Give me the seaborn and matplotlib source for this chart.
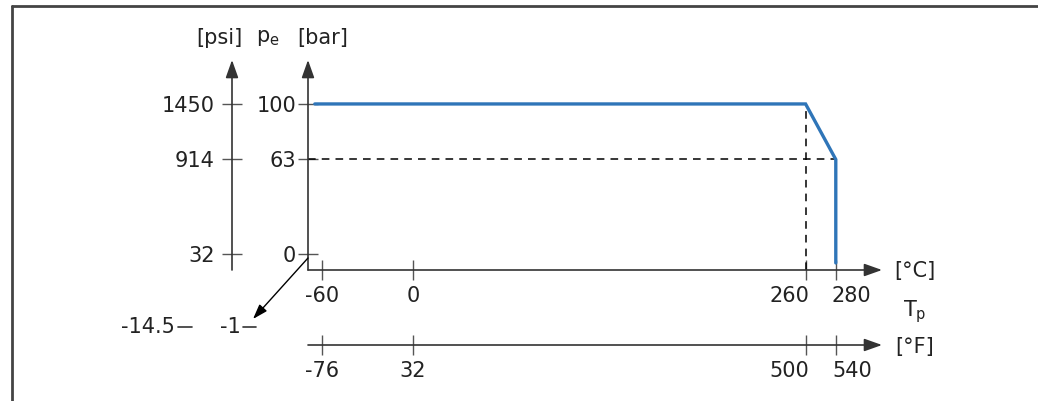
import matplotlib
matplotlib.use("Agg")
import matplotlib.pyplot as plt
import matplotlib.transforms as mtransforms
from matplotlib.lines import Line2D
from matplotlib.patches import FancyArrowPatch
import seaborn as sns
import pandas as pd

# Pressure / temperature derating curve
temp_c = [-65, 260, 280, 280]
pressure_bar = [100, 100, 63, -6]

# Axis ticks and their labels
bar_ticks = [0, 63, 100]
psi_labels = ["32", "914", "1450"]
c_ticks = [-60, 0, 260, 280]
f_labels = ["-76", "32", "500", "540"]
vac_labels = ["-1", "-14.5"]

sns.set_style("white")
plt.rcParams['font.family'] = ['DejaVu Sans']

W, H = 1038, 401
fig = plt.figure(figsize=(W / 100, H / 100), dpi=100)

TXT = '#222222'
AX = '#555555'
FS = 15
XLIM = (-69.5, 310.6)
YLIM = (-10.7, 129.3)

arrow = dict(arrowstyle='-|>,head_length=0.9,head_width=0.32', color=AX, lw=1.2,
             mutation_scale=12, shrinkA=0, shrinkB=0, fc='#333333', ec='#333333')


def clean(a):
    a.set_facecolor('none')
    for s in a.spines.values():
        s.set_visible(False)
    a.set_xlabel("")
    a.set_ylabel("")


def spread_last(a):
    # the two close ticks at the right get their labels pushed apart
    labs = a.get_xticklabels()
    labs[-2].set_transform(labs[-2].get_transform() +
                           mtransforms.ScaledTranslation(-16 / 100, 0, fig.dpi_scale_trans))
    labs[-1].set_transform(labs[-1].get_transform() +
                           mtransforms.ScaledTranslation(16 / 100, 0, fig.dpi_scale_trans))


# main axes: bar vs degC
ax = fig.add_axes([308 / W, 131 / H, 574 / W, 210 / H])
df = pd.DataFrame({"T": temp_c, "p": pressure_bar})
sns.lineplot(data=df, x="T", y="p", sort=False, estimator=None,
             color='#2f75b8', lw=2.4, ax=ax, zorder=5, solid_joinstyle='miter')
ax.set_xlim(*XLIM)
ax.set_ylim(*YLIM)
clean(ax)

# dashed guide lines
ax.hlines(pressure_bar[2], XLIM[0], temp_c[2], colors='black',
          linestyles=(0, (5, 4)), lw=1.1, zorder=3)
ax.vlines(temp_c[1], YLIM[0], pressure_bar[1], colors='black',
          linestyles=(0, (5, 4)), lw=1.1, zorder=3)

ax.set_xticks(c_ticks)
ax.set_xticklabels([str(t) for t in c_ticks])
ax.set_yticks(bar_ticks)
ax.set_yticklabels([str(t) for t in bar_ticks])
ax.tick_params(axis='both', direction='inout', length=15, width=1, color=AX,
               labelsize=FS, labelcolor=TXT, left=True, bottom=True)
ax.tick_params(axis='x', pad=4)
ax.tick_params(axis='y', pad=1)
spread_last(ax)

ax.annotate("", xy=(0, 1), xytext=(0, 0), xycoords='axes fraction',
            arrowprops=arrow, annotation_clip=False)
ax.annotate("", xy=(1, 0), xytext=(0, 0), xycoords='axes fraction',
            arrowprops=arrow, annotation_clip=False)

# psi axis
axp = fig.add_axes([232 / W, 131 / H, 0.001, 210 / H])
axp.set_ylim(*YLIM)
clean(axp)
axp.set_xticks([])
axp.set_yticks(bar_ticks)
axp.set_yticklabels(psi_labels)
axp.tick_params(axis='y', direction='inout', length=15, width=1, color=AX,
                labelsize=FS, labelcolor=TXT, left=True, pad=5)
axp.annotate("", xy=(0, 1), xytext=(0, 0), xycoords='axes fraction',
             arrowprops=arrow, annotation_clip=False)

# degF axis
axf = fig.add_axes([308 / W, 56 / H, 574 / W, 0.001])
axf.set_xlim(*XLIM)
clean(axf)
axf.set_yticks([])
axf.set_xticks(c_ticks)
axf.set_xticklabels(f_labels)
axf.tick_params(axis='x', direction='inout', length=15, width=1, color=AX,
                labelsize=FS, labelcolor=TXT, bottom=True, pad=4)
spread_last(axf)
axf.annotate("", xy=(1, 0), xytext=(0, 0), xycoords='axes fraction',
             arrowprops=arrow, annotation_clip=False)

# diagonal vacuum axis
fig.add_artist(FancyArrowPatch(
    (308 / W, 1 - 258 / H), (253 / W, 1 - 319 / H), transform=fig.transFigure,
    arrowstyle='-|>,head_length=0.9,head_width=0.3', mutation_scale=10,
    color='black', lw=1.0, shrinkA=0, shrinkB=0))
fig.add_artist(Line2D([243 / W, 256 / W], [1 - 327 / H] * 2, color='#333333', lw=1.2))
fig.add_artist(Line2D([178 / W, 192 / W], [1 - 327 / H] * 2, color='#333333', lw=1.2))
fig.text(241 / W, 1 - 327 / H, vac_labels[0], ha='right', va='center',
         fontsize=FS, color=TXT)
fig.text(175 / W, 1 - 327 / H, vac_labels[1], ha='right', va='center',
         fontsize=FS, color=TXT)

# axis titles
fig.text(219 / W, 1 - 38 / H, "[psi]", ha='center', va='center', fontsize=FS, color=TXT)
fig.text(268 / W, 1 - 38 / H, r"p$_\mathregular{e}$", ha='center', va='center',
         fontsize=FS, color=TXT)
fig.text(323 / W, 1 - 38 / H, "[bar]", ha='center', va='center', fontsize=FS, color=TXT)
fig.text(915 / W, 1 - 271 / H, "[°C]", ha='center', va='center', fontsize=FS, color=TXT)
fig.text(915 / W, 1 - 312 / H, r"T$_\mathregular{p}$", ha='center', va='center',
         fontsize=FS, color=TXT)
fig.text(915 / W, 1 - 347 / H, "[°F]", ha='center', va='center', fontsize=FS, color=TXT)

# frame (top and left edges)
fig.add_artist(Line2D([12 / W, 1], [1 - 6 / H] * 2, color='#444444', lw=2))
fig.add_artist(Line2D([12 / W] * 2, [0, 1 - 6 / H], color='#444444', lw=2))

fig.savefig("out.png", dpi=100)
